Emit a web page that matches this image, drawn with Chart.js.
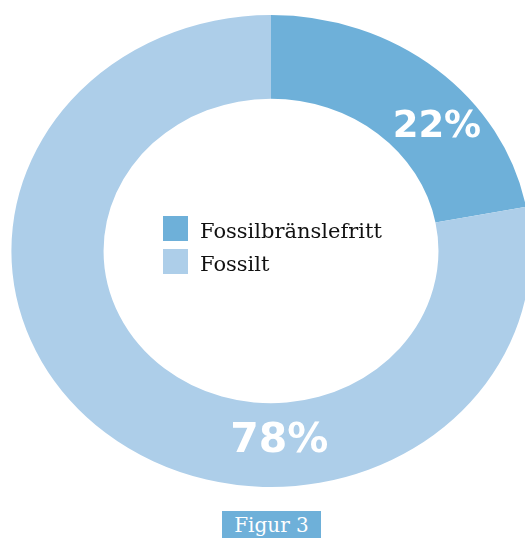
<!DOCTYPE html>
<html>
<head>
<meta charset="utf-8">
<script src="https://cdn.jsdelivr.net/npm/chart.js@4/dist/chart.umd.min.js"></script>
<style>
  html, body { margin: 0; padding: 0; background: #ffffff; }
  #wrap { position: relative; width: 525px; height: 538px; overflow: hidden; }
  #caption {
    position: absolute; left: 222px; top: 511px; width: 99px; height: 27px;
    background: #6EB0D9; color: #ffffff; text-align: center;
    font-family: "DejaVu Serif", serif; font-size: 20px; line-height: 28px;
  }
</style>
</head>
<body>
<div id="wrap">
  <canvas id="c"></canvas>
  <div id="caption">Figur 3</div>
</div>
<script>
const categories = ["Fossilbränslefritt", "Fossilt"];
const shares = [22, 78];
const shareLabels = ["22%", "78%"];
const colors = ["#6EB0D9", "#ADCEE9"];

const stretchX = 1.10;

const ellipsePlugin = {
  id: 'ellipse',
  beforeDatasetsDraw(chart) {
    const a = chart.getDatasetMeta(0).data[0];
    const ctx = chart.ctx;
    ctx.save();
    ctx.translate(a.x, a.y);
    ctx.scale(stretchX, 1);
    ctx.translate(-a.x, -a.y);
  },
  afterDatasetsDraw(chart) {
    chart.ctx.restore();
  },
  afterDraw(chart) {
    const ctx = chart.ctx;
    const meta = chart.getDatasetMeta(0);
    const place = [{f: 0.64, g: 0.51, size: 37}, {f: 0.351, g: 0.46, size: 41}];
    meta.data.forEach((arc, i) => {
      const p = place[i];
      const ang = arc.startAngle + p.f * (arc.endAngle - arc.startAngle);
      const r = arc.innerRadius + p.g * (arc.outerRadius - arc.innerRadius);
      const px = arc.x + Math.cos(ang) * r * stretchX;
      const py = arc.y + Math.sin(ang) * r;
      ctx.save();
      ctx.fillStyle = '#ffffff';
      ctx.font = 'bold ' + p.size + 'px "DejaVu Sans", sans-serif';
      ctx.textAlign = 'center';
      ctx.textBaseline = 'middle';
      ctx.fillText(shareLabels[i], px, py);
      ctx.restore();
    });
    // center legend
    const a = meta.data[0];
    const left = a.x - 108, top = a.y - 35;
    ctx.save();
    ctx.font = '21px "DejaVu Serif", serif';
    ctx.textAlign = 'left';
    ctx.textBaseline = 'alphabetic';
    chart.data.labels.forEach((lab, i) => {
      const y = top + i * 33;
      ctx.fillStyle = chart.data.datasets[0].backgroundColor[i];
      ctx.fillRect(left, y, 25, 25);
      ctx.fillStyle = '#111111';
      ctx.fillText(lab, left + 37, y + 22);
    });
    ctx.restore();
  }
};

new Chart(document.getElementById('c'), {
  type: 'doughnut',
  data: {
    labels: categories,
    datasets: [{
      data: shares,
      backgroundColor: colors,
      borderWidth: 0
    }]
  },
  options: {
    responsive: true,
    maintainAspectRatio: false,
    animation: false,
    cutout: '64.5%',
    layout: { padding: { left: 35, right: 18, top: 15, bottom: 51 } },
    plugins: {
      legend: { display: false },
      tooltip: { enabled: false }
    },
    events: []
  },
  plugins: [ellipsePlugin]
});
</script>
</body>
</html>
